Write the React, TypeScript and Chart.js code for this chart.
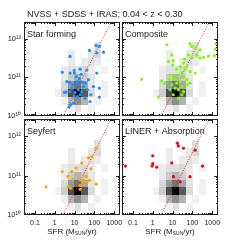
import React, { useEffect, useRef } from "react";
import { Chart, registerables } from "chart.js";

Chart.register(...registerables);

// ---------------- data ----------------
const xMin = 0.028;
const xMax = 1950;
const yMin = 1e10;
const yMax = 2.7e12;

const xTickValues = [0.1, 1, 10, 100, 1000];
const xTickLabels = ["0.1", "1", "10", "100", "1000"];
const yTickValues = [1e10, 1e11, 1e12];
const yTickLabels = ["10¹⁰", "10¹¹", "10¹²"];

// SFR–L_FIR relation (dotted red line)
const relationSFR = [1, 1000];
const relationLFIR = [3.85e9, 3.85e12];

// background density of the whole sample (log SFR, log L_FIR, relative density)
const densityLogSFR = [
  1.17, 0.83, 1.83,
  0.5, 0.83, 1.17, 1.5, 2.17,
  0.17, 0.5, 0.83, 1.17, 1.5, 1.83, 2.5,
  0.5, 0.83, 1.17, 1.5, 1.83, 2.5,
  0.5, 0.83, 1.17, 1.5, 1.83,
  0.5, 0.83, 1.17, 1.5, 1.83, 2.5,
  0.83, 1.5, 1.83, 2.17,
  0.83, 1.83, 2.17,
  2.17,
];
const densityLogLFIR = [
  10.2, 10.2, 10.2,
  10.4, 10.4, 10.4, 10.4, 10.4,
  10.6, 10.6, 10.6, 10.6, 10.6, 10.6, 10.6,
  10.8, 10.8, 10.8, 10.8, 10.8, 10.8,
  11.0, 11.0, 11.0, 11.0, 11.0,
  11.2, 11.2, 11.2, 11.2, 11.2, 11.2,
  11.4, 11.4, 11.4, 11.4,
  11.6, 11.6, 11.6,
  11.8,
];
const densityLevel = [
  0.12, 0.06, 0.06,
  0.06, 0.3, 0.45, 0.3, 0.06,
  0.06, 0.2, 0.7, 1.0, 0.65, 0.15, 0.06,
  0.15, 0.4, 0.55, 0.35, 0.1, 0.06,
  0.08, 0.2, 0.3, 0.2, 0.1,
  0.08, 0.12, 0.12, 0.15, 0.08, 0.05,
  0.08, 0.08, 0.12, 0.08,
  0.08, 0.1, 0.15,
  0.12,
];

// Star forming (log SFR, log L_FIR)
const starFormingLogSFR = [
  2.09, 2.25, 1.75, 2.46, 2.12, 0.77, 1.28, 1.62, 0.98, 0.38, 0.99, 2.12, 1.33, 0.77, 1.24,
  0.61, 0.77, 1.14, 1.53, 0.57, 0.91, 1.24, 1.45, 0.86, 1.19, 0.77, 1.03, 1.36, 1.65, 1.95,
  2.25, 0.49, 0.98, 1.28, 1.82, 1.14, 1.53, 1.78, 0.94, 0.8, 0.72, 2.25, 1.4, 1.7, 1.08,
];
const starFormingLogLFIR = [
  11.82, 11.8, 11.7, 11.65, 11.63, 11.54, 11.21, 11.19, 11.18, 11.13, 11.11, 11.11, 11.08, 11.11, 10.96,
  10.89, 10.87, 10.89, 10.85, 10.62, 10.81, 10.81, 10.76, 10.72, 10.68, 10.63, 10.61, 10.63, 10.68, 10.76,
  10.72, 10.61, 10.52, 10.55, 10.55, 10.5, 10.46, 10.37, 10.33, 10.29, 10.23, 10.49, 10.87, 10.94, 11.02,
];

// Composite
const compositeLogSFR = [
  0.71, 1.88, 1.97, 2.14, 3.2, 3.15, 1.8, 2.39, 3.11, 0.96, 0.79, 1.04, 1.55, 1.6, 1.97,
  2.39, 2.56, 2.81, 1.01, 1.38, 1.63, 1.88, 1.21, 1.47, 2.14, -0.56, 0.45, 0.62, 0.84, 1.04,
  1.29, 1.55, 1.72, 0.96, 1.21, 1.38, 1.47, 1.72, 1.88, 1.13, 1.29, 1.55, 0.87, 1.04, 1.47,
  0.28, 1.29, 1.72, 1.13, 0.87, 2.22,
];
const compositeLogLFIR = [
  11.84, 11.87, 11.8, 11.76, 11.87, 11.73, 11.58, 11.71, 11.56, 11.58, 11.41, 11.43, 11.37, 11.47, 11.5,
  11.5, 11.52, 11.55, 11.32, 11.28, 11.21, 11.15, 11.21, 11.12, 11.11, 10.95, 10.91, 10.85, 10.95, 11.02,
  11.06, 11.01, 10.94, 10.81, 10.85, 10.89, 10.76, 10.81, 10.85, 10.72, 10.68, 10.63, 10.68, 10.55, 10.55,
  10.49, 10.46, 11.28, 10.95, 11.06, 11.58,
];

// Seyfert
const seyfertLogSFR = [
  2.09, 1.7, 1.87, 1.36, 1.82, 1.08, 0.38, 0.86, 0.66, 1.58, 1.28, 1.45, 0.91, 0.69, 0.81,
  1.62, 2.09, 1.28, 1.28, -0.44, 1.75,
];
const seyfertLogLFIR = [
  11.69, 11.45, 11.47, 11.32, 11.17, 11.19, 11.1, 11.1, 10.98, 10.98, 10.89, 10.88, 10.91, 10.72, 10.68,
  10.82, 10.78, 10.75, 10.65, 10.71, 10.88,
];

// LINER + Absorption
const linerLogSFR = [1.24, 1.29, 1.55, 2.14, 0.0, 0.96, 0.0, -0.03, 0.2, -1.38, 2.51, 1.04, 1.88, 1.38];
const linerLogLFIR = [11.82, 11.75, 11.69, 11.64, 11.5, 11.32, 11.3, 11.24, 11.21, 11.24, 11.24, 10.97, 10.97, 10.84];

// ---------------- layout / style ----------------
const FONT = '"Liberation Sans", Arial, Helvetica, sans-serif';
const TEXT = "#222";

type Box = { left: number; top: number; right: number; bottom: number };
type Panel = {
  name: string;
  sfr: number[];
  lfir: number[];
  color: string;
  box: Box;
  showX: boolean;
  showY: boolean;
};

const PANELS: Panel[] = [
  { name: "Star forming", sfr: starFormingLogSFR, lfir: starFormingLogLFIR, color: "#1e90ff", box: { left: 24, top: 22, right: 120, bottom: 116 }, showX: false, showY: true },
  { name: "Composite", sfr: compositeLogSFR, lfir: compositeLogLFIR, color: "#7cfc00", box: { left: 122, top: 22, right: 218, bottom: 116 }, showX: false, showY: false },
  { name: "Seyfert", sfr: seyfertLogSFR, lfir: seyfertLogLFIR, color: "#ffa500", box: { left: 24, top: 119, right: 120, bottom: 215 }, showX: true, showY: true },
  { name: "LINER + Absorption", sfr: linerLogSFR, lfir: linerLogLFIR, color: "#ff0000", box: { left: 122, top: 119, right: 218, bottom: 215 }, showX: true, showY: false },
];

const cellCache = new Map<number, HTMLCanvasElement>();
function cellImage(level: number): HTMLCanvasElement {
  const hit = cellCache.get(level);
  if (hit) return hit;
  const c = document.createElement("canvas");
  c.width = 7;
  c.height = 8;
  const g = c.getContext("2d")!;
  const v = Math.round(255 * (1 - level));
  g.fillStyle = `rgb(${v},${v},${v})`;
  g.fillRect(0, 0, 7, 8);
  cellCache.set(level, c);
  return c;
}

const frameTicks = {
  id: "frameTicks",
  afterDatasetsDraw(chart: any) {
    const { ctx, chartArea: a, scales } = chart;
    ctx.save();
    ctx.strokeStyle = "#222";
    ctx.lineWidth = 1;
    ctx.strokeRect(a.left + 0.5, a.top + 0.5, a.right - a.left - 1, a.bottom - a.top - 1);
    ctx.beginPath();
    for (let d = -2; d <= 3; d++) {
      for (let m = 1; m <= 9; m++) {
        const v = m * Math.pow(10, d);
        if (v <= xMin || v >= xMax) continue;
        const p = Math.round(scales.x.getPixelForValue(v)) + 0.5;
        const len = m === 1 ? 4 : 2;
        ctx.moveTo(p, a.bottom);
        ctx.lineTo(p, a.bottom - len);
        ctx.moveTo(p, a.top);
        ctx.lineTo(p, a.top + len);
      }
    }
    for (let d = 10; d <= 12; d++) {
      for (let m = 1; m <= 9; m++) {
        const v = m * Math.pow(10, d);
        if (v <= yMin || v >= yMax) continue;
        const p = Math.round(scales.y.getPixelForValue(v)) + 0.5;
        const len = m === 1 ? 4 : 2;
        ctx.moveTo(a.left, p);
        ctx.lineTo(a.left + len, p);
        ctx.moveTo(a.right, p);
        ctx.lineTo(a.right - len, p);
      }
    }
    ctx.stroke();
    ctx.restore();
  },
};

const panelLabel = {
  id: "panelLabel",
  afterDraw(chart: any, _args: any, opts: any) {
    const { ctx, chartArea: a } = chart;
    ctx.save();
    ctx.font = `9px ${FONT}`;
    ctx.fillStyle = TEXT;
    ctx.textBaseline = "alphabetic";
    ctx.textAlign = "left";
    ctx.fillText(opts.text, a.left + 3, a.top + 15);
    ctx.restore();
  },
};

function makeConfig(p: Panel): any {
  const b = p.box;
  return {
    type: "scatter",
    data: {
      datasets: [
        {
          label: p.name,
          data: p.sfr.map((lx, i) => ({ x: Math.pow(10, lx), y: Math.pow(10, p.lfir[i]) })),
          backgroundColor: p.color,
          borderWidth: 0,
          pointRadius: 1.6,
          pointStyle: "circle",
          order: 0,
        },
        {
          type: "line",
          label: "relation",
          data: relationSFR.map((x, i) => ({ x, y: relationLFIR[i] })),
          borderColor: "#e8271f",
          borderWidth: 1,
          borderDash: [1, 1.5],
          pointRadius: 0,
          fill: false,
          order: 1,
        },
        {
          label: "density",
          data: densityLogSFR.map((lx, i) => ({ x: Math.pow(10, lx), y: Math.pow(10, densityLogLFIR[i]) })),
          pointStyle: densityLevel.map(cellImage),
          pointRadius: 4,
          order: 2,
        },
      ],
    },
    options: {
      animation: false,
      responsive: false,
      events: [],
      layout: { padding: { left: 0, top: b.top, right: 240 - b.right, bottom: 0 } },
      scales: {
        x: {
          type: "logarithmic",
          min: xMin,
          max: xMax,
          afterFit: (s: any) => {
            s.height = 240 - b.bottom;
          },
          afterBuildTicks: (s: any) => {
            s.ticks = xTickValues.map((v) => ({ value: v }));
          },
          ticks: {
            display: p.showX,
            autoSkip: false,
            maxRotation: 0,
            padding: 4,
            color: TEXT,
            font: { family: FONT, size: 7 },
            callback: (_v: any, i: number) => xTickLabels[i],
          },
          grid: { display: false, drawTicks: false },
          border: { display: false },
        },
        y: {
          type: "logarithmic",
          min: yMin,
          max: yMax,
          afterFit: (s: any) => {
            s.width = b.left;
          },
          afterBuildTicks: (s: any) => {
            s.ticks = yTickValues.map((v) => ({ value: v }));
          },
          ticks: {
            display: p.showY,
            autoSkip: false,
            padding: 3,
            color: TEXT,
            font: { family: FONT, size: 7.5 },
            callback: (_v: any, i: number) => yTickLabels[i],
          },
          grid: { display: false, drawTicks: false },
          border: { display: false },
        },
      },
      plugins: {
        legend: { display: false },
        tooltip: { enabled: false },
        title: { display: false },
        panelLabel: { text: p.name },
      },
    },
    plugins: [frameTicks, panelLabel],
  };
}

function PanelChart({ panel }: { panel: Panel }) {
  const ref = useRef<HTMLCanvasElement>(null);
  useEffect(() => {
    const chart = new Chart(ref.current!, makeConfig(panel));
    return () => chart.destroy();
  }, [panel]);
  return (
    <canvas
      ref={ref}
      width={240}
      height={240}
      style={{ position: "absolute", left: 0, top: 0, width: 240, height: 240 }}
    />
  );
}

const subStyle: React.CSSProperties = { fontSize: "0.62em", verticalAlign: "-0.25em", lineHeight: 0 };

export default function App() {
  return (
    <div
      style={{
        position: "fixed",
        left: 0,
        top: 0,
        width: 240,
        height: 240,
        overflow: "hidden",
        background: "#fff",
        fontFamily: FONT,
        color: TEXT,
      }}
    >
      {PANELS.map((p) => (
        <PanelChart key={p.name} panel={p} />
      ))}
      <div style={{ position: "absolute", left: 27, top: 10, fontSize: 9, lineHeight: "9px", whiteSpace: "pre" }}>
        {"NVSS + SDSS + IRAS; 0.04 < z < 0.30"}
      </div>
      {PANELS.filter((p) => p.showX).map((p) => (
        <div
          key={"xt" + p.name}
          style={{
            position: "absolute",
            left: p.box.left,
            width: p.box.right - p.box.left,
            top: 228,
            textAlign: "center",
            fontSize: 8,
            lineHeight: "8px",
            whiteSpace: "nowrap",
          }}
        >
          SFR (M<span style={subStyle}>SUN</span>/yr)
        </div>
      ))}
      {PANELS.filter((p) => p.showY).map((p) => (
        <div
          key={"yt" + p.name}
          style={{
            position: "absolute",
            left: -5,
            top: (p.box.top + p.box.bottom) / 2 - 6,
            transform: "translate(-50%, -50%) rotate(-90deg)",
            fontSize: 8,
            lineHeight: "8px",
            whiteSpace: "nowrap",
            color: "#555",
          }}
        >
          L<span style={subStyle}>FIR</span> (L<span style={subStyle}>SUN</span>)
        </div>
      ))}
    </div>
  );
}
